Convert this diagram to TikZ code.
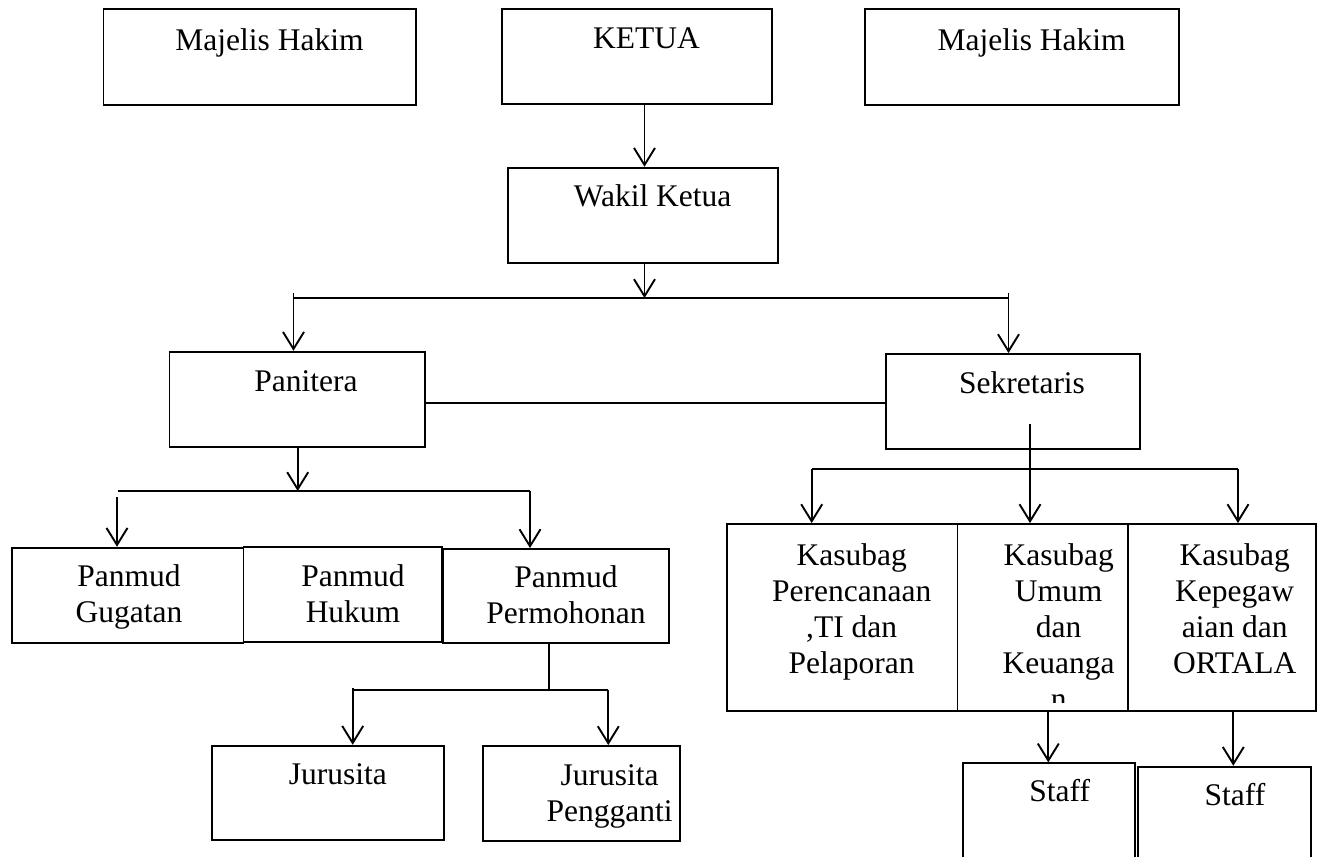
\documentclass[tikz,border=0pt]{standalone}
\usepackage{fontspec}
\setmainfont{Liberation Serif}
\usetikzlibrary{arrows.meta,fit,calc}
\tikzset{
  box/.style={draw, line width=1.9pt, inner sep=0pt},
  txt/.style={font=\fontsize{31.5}{36.2}\selectfont, align=center, inner sep=0pt, anchor=base},
  conn/.style={line width=1.9pt},
  arr/.style={conn, -{Straight Barb[length=17pt,width=21pt,line width=1.9pt]}},
}
\begin{document}
\begin{tikzpicture}[x=1pt,y=-1pt]
\useasboundingbox (0,0) rectangle (1318,857);
\fill[white] (0,0) rectangle (1318,857);
\clip (0,0) rectangle (1318,857);
% boxes
\node[box, fit={(103.5,9.3) (415.8,105)}] (mhl) {};
\node[box, fit={(502,9) (771.6,104.3)}] (ketua) {};
\node[box, fit={(865,9.3) (1178.6,105)}] (mhr) {};
\node[box, fit={(507.7,167.7) (778,263.3)}] (wakil) {};
\node[box, fit={(169.5,351.7) (424.7,446.7)}] (panitera) {};
\node[box, fit={(885.7,354) (1140,449)}] (sekretaris) {};
\node[box, fit={(11.7,547.7) (243.5,642.7)}] (gugatan) {};
\node[box, fit={(243.5,546.7) (441.7,641.7)}] (hukum) {};
\node[box, fit={(443,549) (669,643)}] (permohonan) {};
\node[box, fit={(211.7,745.7) (444.3,840)}] (jurusita) {};
\node[box, fit={(483.3,746) (680,840.7)}] (jp) {};
\node[box, fit={(727.3,524) (957.5,710.7)}] (k1) {};
\node[box, fit={(957.5,524) (1128,710.7)}] (k2) {};
\node[box, fit={(1128,524) (1316,710.7)}] (k3) {};
\node[box, fit={(963.3,763.3) (1135,880)}] (staff1) {};
\node[box, fit={(1138.3,766.7) (1310.7,880)}] (staff2) {};
% texts (anchor base = baseline of the last line)
\node[txt] (tmhl) at (269.5,50) {Majelis Hakim};
\node[txt] (tketua) at (646.5,48) {KETUA};
\node[txt] (tmhr) at (1031.6,50) {Majelis Hakim};
\node[txt] (twakil) at (652.6,206.7) {Wakil Ketua};
\node[txt] (tpanitera) at (306,391.7) {Panitera};
\node[txt] (tsekretaris) at (1022,393) {Sekretaris};
\node[txt] (tgugatan) at (129,622.9) {Panmud\\Gugatan};
\node[txt] (thukum) at (353,622.9) {Panmud\\Hukum};
\node[txt] (tpermohonan) at (566,623.7) {Panmud\\Permohonan};
\node[txt] (tjurusita) at (337.8,784) {Jurusita};
\node[txt] (tjp) at (609.7,821.9) {Jurusita\\Pengganti};
\node[txt] (tk1) at (851.7,673.6) {Kasubag\\Perencanaan\\,TI dan\\Pelaporan};
\begin{scope}
\clip (957.5,524) rectangle (1128,702);
\node[txt] (tk2) at (1058.7,709.8) {Kasubag\\Umum\\dan\\Keuanga\\n};
\end{scope}
\node[txt] (tk3) at (1234.7,673.6) {Kasubag\\Kepegaw\\aian dan\\ORTALA};
\node[txt] (tstaff1) at (1059.8,801.7) {Staff};
\node[txt] (tstaff2) at (1235,805) {Staff};
% junction coordinates
\coordinate (j1) at (644.5,298);
\coordinate (bl) at (293.5,298);
\coordinate (br) at (1008.5,298);
\coordinate (ps) at (0,403);
\coordinate (j2) at (297.7,491);
\coordinate (b2l) at (118,491);
\coordinate (b2r) at (530,491);
\coordinate (j3) at (549,690);
\coordinate (b3l) at (352.7,690);
\coordinate (b3r) at (608.3,690);
\coordinate (s0) at (1030,424);
\coordinate (j4) at (1030,469);
\coordinate (b4l) at (811.7,469);
\coordinate (b4r) at (1238,469);
\coordinate (st1) at (1048.3,0);
\coordinate (st2) at (1233.3,0);
% connectors
\draw[arr] (ketua.south -| j1) -- (wakil.north -| j1);
\draw[arr] (wakil.south -| j1) -- (j1);
\draw[conn] (bl) -- (br);
\draw[arr] ($(bl)+(0,-5)$) -- (panitera.north -| bl);
\draw[arr] ($(br)+(0,-5)$) -- (sekretaris.north -| br);
\draw[conn] (panitera.east |- ps) -- (sekretaris.west |- ps);
\draw[arr] (panitera.south -| j2) -- (j2);
\draw[conn] (b2l) -- (b2r);
\draw[arr] ($(b2l)+(-1,6)$) -- (gugatan.north -| 117,0);
\draw[arr] (b2r) -- (permohonan.north -| b2r);
\draw[conn] (permohonan.south -| j3) -- (j3);
\draw[conn] (b3l) -- (b3r);
\draw[arr] ($(b3l)+(0,-2)$) -- (jurusita.north -| b3l);
\draw[arr] (b3r) -- (jp.north -| b3r);
\draw[conn] (s0) -- (j4);
\draw[conn] (b4l) -- (b4r);
\draw[arr] (j4) -- (k2.north -| j4);
\draw[arr] (b4l) -- (k1.north -| b4l);
\draw[arr] (b4r) -- (k3.north -| b4r);
\draw[arr] (k2.south -| st1) -- (staff1.north -| st1);
\draw[arr] (k3.south -| st2) -- (staff2.north -| st2);
\end{tikzpicture}
\end{document}
